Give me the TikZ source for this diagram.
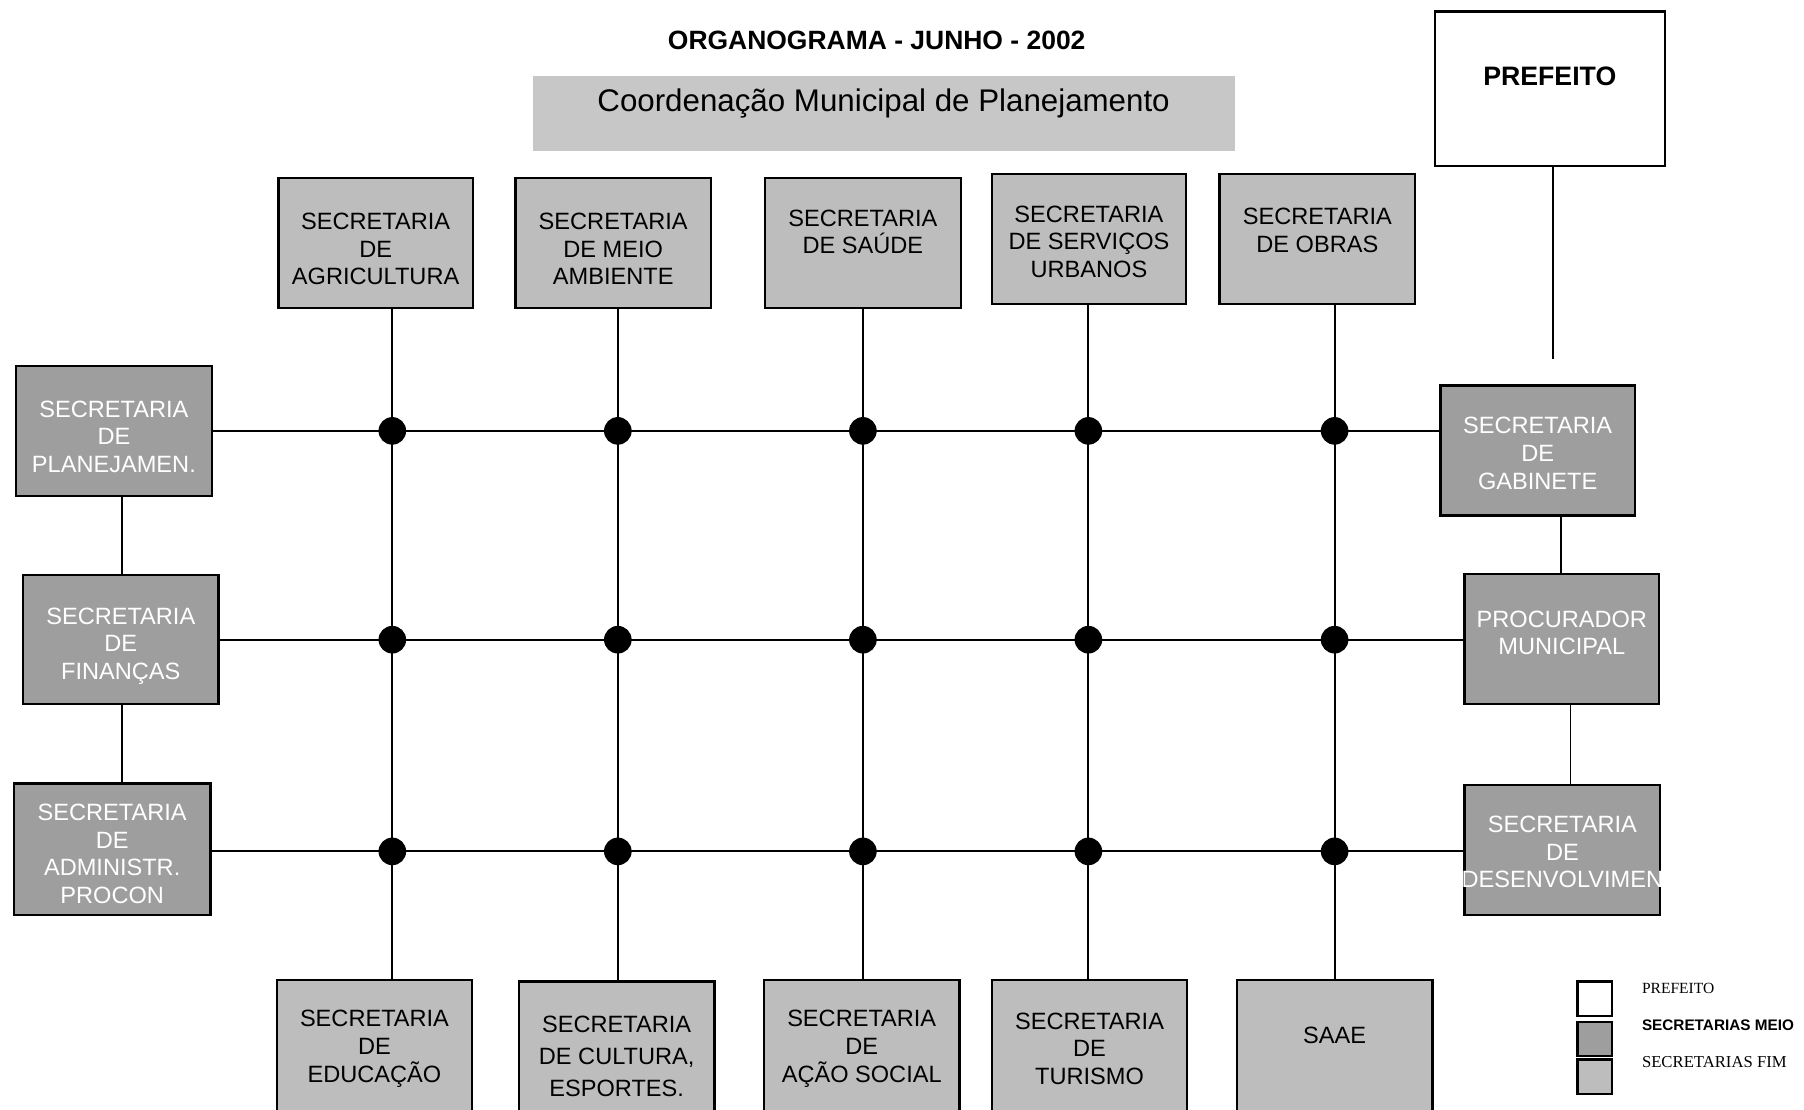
\documentclass[tikz,border=0pt]{standalone}
\usepackage{fontspec}
\setmainfont{Liberation Sans}
\newfontfamily\legserif{Liberation Serif}
\definecolor{fimgray}{gray}{0.74}
\definecolor{meiogray}{gray}{0.62}
\definecolor{coordgray}{gray}{0.78}
\tikzset{
  box/.style={draw=black, line width=2pt, inner sep=0pt, anchor=center},
  fimbox/.style={box, fill=fimgray},
  meiobox/.style={box, fill=meiogray},
  boxtext/.style={inner sep=0pt, align=center, font=\fontsize{20.5}{24}\selectfont},
  fimtext/.style={boxtext, text=black},
  meiotext/.style={boxtext, text=white},
  conn/.style={draw=black, line width=1.6pt},
  dot/.style={fill=black},
}
\begin{document}
\begin{tikzpicture}[x=1pt,y=-1pt]
\useasboundingbox[fill=white] (0,0) rectangle (1568,964);

% title
\node[inner sep=0pt, font=\fontsize{23}{27}\bfseries\selectfont] (title) at (762,35) {ORGANOGRAMA - JUNHO - 2002};

% coordenacao
\node[fill=coordgray, inner sep=0pt, minimum width=610pt, minimum height=65pt] (coord) at (768,98.5) {};
\node[inner sep=0pt, font=\fontsize{27.2}{30}\selectfont] (coordT) at (768,90) {Coordenação Municipal de Planejamento};

% prefeito
\node[box, fill=white, minimum width=200pt, minimum height=134pt] (pref) at (1347,77) {};
\node[inner sep=0pt, font=\fontsize{23.2}{27}\bfseries\selectfont] (prefT) at (1347,66) {PREFEITO};
\coordinate (prefend) at (1350,312);

% top boxes (fim)
\node[fimbox, minimum width=169pt, minimum height=113pt] (agr) at (326.5,211.5) {};
\node[fimtext] (agrT) at (326.5,216.5) {SECRETARIA\\DE\\AGRICULTURA};
\node[fimbox, minimum width=170pt, minimum height=113pt] (mei) at (533,211.5) {};
\node[fimtext] (meiT) at (533,216.5) {SECRETARIA\\DE MEIO\\AMBIENTE};
\node[fimbox, minimum width=170pt, minimum height=113pt] (sau) at (750,211.5) {};
\node[fimtext] (sauT) at (750,201.5) {SECRETARIA\\DE SAÚDE};
\node[fimbox, minimum width=169pt, minimum height=113pt] (ser) at (946.5,207.5) {};
\node[fimtext] (serT) at (946.5,210) {SECRETARIA\\DE SERVIÇOS\\URBANOS};
\node[fimbox, minimum width=170pt, minimum height=113pt] (obr) at (1145,207.5) {};
\node[fimtext] (obrT) at (1145,200.5) {SECRETARIA\\DE OBRAS};

% left boxes (meio)
\node[meiobox, minimum width=170pt, minimum height=113pt] (plan) at (99,374.5) {};
\node[meiotext] (planT) at (99,379.5) {SECRETARIA\\DE\\PLANEJAMEN.};
\node[meiobox, minimum width=170pt, minimum height=112pt] (fin) at (105,556) {};
\node[meiotext] (finT) at (105,561.5) {SECRETARIA\\DE\\FINANÇAS};
\node[meiobox, minimum width=171pt, minimum height=114pt] (adm) at (97.5,738) {};
\node[meiotext] (admT) at (97.5,742) {SECRETARIA\\DE\\ADMINISTR.\\PROCON};

% right boxes (meio)
\node[meiobox, minimum width=169pt, minimum height=113pt] (gab) at (1336.5,391.5) {};
\node[meiotext] (gabT) at (1336.5,394) {SECRETARIA\\DE\\GABINETE};
\node[meiobox, minimum width=169pt, minimum height=113pt] (proc) at (1357.5,555.5) {};
\node[meiotext] (procT) at (1357.5,550) {PROCURADOR\\MUNICIPAL};
\node[meiobox, minimum width=170pt, minimum height=113pt] (des) at (1358,738.5) {};
\node[meiotext] (desT) at (1358,740.5) {SECRETARIA\\DE\\DESENVOLVIMEN};

% bottom boxes (fim)
\node[fimbox, minimum width=169pt, minimum height=138pt] (edu) at (325.5,921) {};
\node[fimtext] (eduT) at (325.5,911.5) {SECRETARIA\\DE\\EDUCAÇÃO};
\node[fimbox, minimum width=170pt, minimum height=137pt] (cul) at (536,921.5) {};
\node[fimtext, font=\fontsize{20.5}{28}\selectfont] (culT) at (536,918) {SECRETARIA\\DE CULTURA,\\ESPORTES.};
\node[fimbox, minimum width=170pt, minimum height=138pt] (aca) at (749,921) {};
\node[fimtext] (acaT) at (749,911.5) {SECRETARIA\\DE\\AÇÃO SOCIAL};
\node[fimbox, minimum width=170pt, minimum height=138pt] (tur) at (947,921) {};
\node[fimtext] (turT) at (947,911.5) {SECRETARIA\\DE\\TURISMO};
\node[fimbox, minimum width=170pt, minimum height=138pt] (saae) at (1160,921) {};
\node[fimtext] (saaeT) at (1160,900) {SAAE};

% column coordinates
\coordinate (c1) at (341,0);
\coordinate (c2) at (537,0);
\coordinate (c3) at (750,0);
\coordinate (c4) at (946,0);
\coordinate (c5) at (1160,0);

% prefeito line
\draw[conn] (pref.south -| prefend) -- (prefend);

% horizontal rows
\draw[conn] (plan.east) -- (plan.east -| gab.west);
\draw[conn] (fin.east) -- (fin.east -| proc.west);
\draw[conn] (adm.east |- 0,740) -- (des.west |- 0,740);

% vertical columns
\draw[conn] (c1 |- agr.south) -- (c1 |- edu.north);
\draw[conn] (c2 |- mei.south) -- (c2 |- cul.north);
\draw[conn] (c3 |- sau.south) -- (c3 |- aca.north);
\draw[conn] (c4 |- ser.south) -- (c4 |- tur.north);
\draw[conn] (c5 |- obr.south) -- (c5 |- saae.north);

% left vertical links
\draw[conn] (106,0 |- plan.south) -- (106,0 |- fin.north);
\draw[conn] (106,0 |- fin.south) -- (106,0 |- adm.north);
% right vertical links
\draw[conn] (1357,0 |- gab.south) -- (1357,0 |- proc.north);
\draw[conn] (1365,0 |- proc.south) -- (1365,0 |- des.north);

% dots
\foreach \c in {c1,c2,c3,c4,c5}{
  \fill[dot] (\c |- plan.east) circle (12);
  \fill[dot] (\c |- fin.east) circle (12);
  \fill[dot] (\c |- 0,740) circle (12);
}

% legend
\node[box, fill=white, minimum width=30pt, minimum height=30pt] (legP) at (1386,868) {};
\node[meiobox, minimum width=30pt, minimum height=30pt] (legM) at (1386,903) {};
\node[fimbox, minimum width=30pt, minimum height=30pt] (legF) at (1386,936) {};
\node[anchor=west, inner sep=0pt, font=\legserif\fontsize{13.5}{16}\selectfont] (legPT) at (1427,859) {PREFEITO};
\node[anchor=west, inner sep=0pt, font=\fontsize{13.3}{16}\bfseries\selectfont] (legMT) at (1427,891) {SECRETARIAS MEIO};
\node[anchor=west, inner sep=0pt, font=\legserif\fontsize{14.5}{17}\selectfont] (legFT) at (1427,923) {SECRETARIAS FIM};
\end{tikzpicture}
\end{document}
